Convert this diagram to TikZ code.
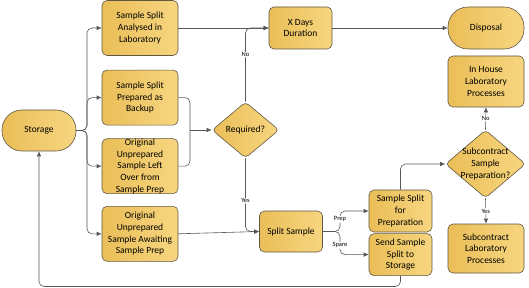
\documentclass[tikz,border=0pt]{standalone}
\usepackage{fontspec}
\setmainfont{Carlito}
\usepackage{xcolor}
\usepackage{tikz}
\usetikzlibrary{arrows.meta, positioning, shapes.geometric}

\definecolor{goldA}{RGB}{234,190,88}
\definecolor{goldB}{RGB}{247,214,128}
\definecolor{edgeline}{RGB}{96,86,66}
\definecolor{linkgray}{RGB}{88,88,88}

\begin{document}
\begin{tikzpicture}[
    x=1pt, y=-1pt,
    font=\fontsize{9.5}{11.7}\selectfont,
    process/.style={
        draw=edgeline,
        rounded corners=5pt,
        left color=goldA, right color=goldB,
        minimum width=76pt,
        minimum height=55pt,
        inner sep=0pt,
        align=center,
        line width=0.6pt
    },
    terminal/.style={
        draw=edgeline,
        rounded corners=20pt,
        left color=goldA, right color=goldB,
        minimum width=76pt,
        minimum height=42pt,
        align=center,
        line width=0.6pt
    },
    decision/.style={
        draw=edgeline,
        diamond,
        rounded corners=4pt,
        left color=goldA, right color=goldB,
        inner sep=0pt,
        align=center,
        line width=0.6pt
    },
    link/.style={
        draw=linkgray,
        rounded corners=5pt,
        line width=0.6pt
    },
    arrow/.style={
        link,
        -{Latex[length=5pt,width=4.5pt]}
    },
    tag/.style={
        fill=white,
        inner sep=0.8pt,
        font=\fontsize{6.5}{7.5}\selectfont
    }
]
\useasboundingbox (0,0) rectangle (529,288);

% Left column
\node[terminal, minimum width=74pt, minimum height=41pt] (storage) at (39,130.5) {Storage};

\node[process] (analysed) at (140,28) {Sample Split\\Analysed in\\Laboratory};
\node[process, below=14pt of analysed] (backup) {Sample Split\\Prepared as\\Backup};
\node[process, below=13pt of backup] (leftover) {Original\\Unprepared\\Sample Left\\Over from\\Sample Prep};
\node[process, below=12pt of leftover] (awaiting) {Original\\Unprepared\\Sample Awaiting\\Sample Prep};

% Middle
\node[decision, minimum width=67pt, minimum height=56pt] (required) at (245.5,130) {Required?};
\node[process, minimum width=63pt, minimum height=42pt] (xdays) at (300.5,28) {X Days\\Duration};
\node[process, minimum width=63pt, minimum height=41pt] (split) at (291,231.5) {Split Sample};
\node[process, minimum width=63pt, minimum height=42pt] (prepbox) at (400.5,211) {Sample Split\\for\\Preparation};
\node[process, minimum width=63pt, minimum height=42pt, below=1pt of prepbox] (sendbox) {Send Sample\\Split to\\Storage};

% Right column
\node[terminal] (disposal) at (486,28) {Disposal};
\node[process, minimum height=51pt] (inhouse) at (486,81.5) {In House\\Laboratory\\Processes};
\node[decision, minimum width=80pt, minimum height=68pt,
      label={[align=center]center:{Subcontract\\Sample\\Preparation?}}] (subq) at (485.5,164) {};
\node[process, minimum height=49pt] (sublab) at (486,248.5) {Subcontract\\Laboratory\\Processes};

% Helper points
\coordinate (fork) at (87,130.5);
\coordinate (merge) at (190,130);
\coordinate (fork2) at (340,231.5);
\coordinate (loop) at (200,286.5);

% Connectors
\draw[arrow] (storage.east) -- (fork) |- (analysed.west);
\draw[arrow] (storage.east) -- (fork) |- (backup.west);
\draw[arrow] (storage.east) -- (fork) |- (leftover.west);
\draw[arrow] (storage.east) -- (fork) |- (awaiting.west);

\draw[link] (backup.east) -| (merge);
\draw[link] (leftover.east) -| (merge);
\draw[arrow] (merge) -- (required.west);

\draw[arrow] (analysed.east) -- (xdays.west);
\draw[arrow] (required.north) |- node[tag, pos=0.32] (no1) {No} (xdays.west);
\draw[arrow] (required.south) |- node[tag, pos=0.29] (yes1) {Yes} (split.west);
\draw[arrow] (awaiting.east) -- (split.west);
\draw[arrow] (xdays.east) -- (disposal.west);

\draw[arrow] (split.east) -- (fork2) |- node[tag, pos=0.3] (prep) {Prep} (prepbox.west);
\draw[arrow] (split.east) -- (fork2) |- node[tag, pos=0.3] (spare) {Spare} (sendbox.west);

\draw[arrow] (prepbox.north) |- (subq.west);
\draw[arrow] (subq.north) -- node[tag] (no2) {No} (inhouse.south);
\draw[arrow] (subq.south) -- node[tag] (yes2) {Yes} (sublab.north);

\draw[arrow] (sendbox.south) |- (loop) -| (storage.south);

\end{tikzpicture}
\end{document}
